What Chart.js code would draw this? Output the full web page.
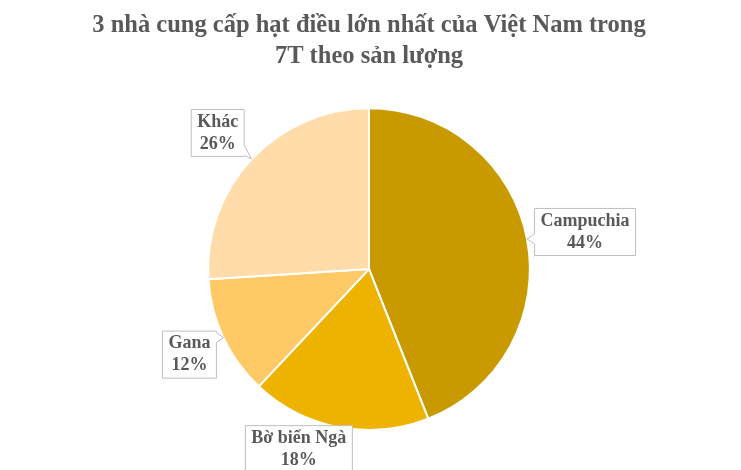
<!DOCTYPE html>
<html>
<head>
<meta charset="utf-8">
<script src="https://cdn.jsdelivr.net/npm/chart.js@4"></script>
<style>
  html, body { margin: 0; padding: 0; background: #fff; }
  #wrap { width: 741px; height: 470px; }
</style>
</head>
<body>
<div id="wrap"><canvas id="pie" width="741" height="470"></canvas></div>
<script>
// dữ liệu
const labels = ['Campuchia', 'Bờ biển Ngà', 'Gana', 'Khác'];
const shares = [44, 18, 12, 26];
const colors = ['#C99A00', '#EEB200', '#FFC965', '#FFDCA9'];
const titleLines = ['3 nhà cung cấp hạt điều lớn nhất của Việt Nam trong', '7T theo sản lượng'];

// vị trí hộp nhãn so với mép lát (px)
const boxOffset = [[58, -7], [-40, 22], [-34, 17], [-34, -26]];

const FONT = 'bold 18px "Liberation Serif", "Times New Roman", serif';
const TEXT = '#595959';

// nhãn dạng callout
const calloutPlugin = {
  id: 'callout',
  afterDatasetsDraw(chart) {
    const ctx = chart.ctx;
    const meta = chart.getDatasetMeta(0);
    ctx.save();
    ctx.font = FONT;
    meta.data.forEach((arc, i) => {
      const mid = (arc.startAngle + arc.endAngle) / 2;
      const tx = arc.x + Math.cos(mid) * arc.outerRadius;
      const ty = arc.y + Math.sin(mid) * arc.outerRadius;
      const cx = tx + boxOffset[i][0];
      const cy = ty + boxOffset[i][1];
      const l1 = labels[i], l2 = shares[i] + '%';
      const w = Math.max(ctx.measureText(l1).width, ctx.measureText(l2).width) + 12;
      const h = 47;
      const x0 = cx - w / 2, y0 = cy - h / 2, x1 = cx + w / 2, y1 = cy + h / 2;

      // hình hộp có mũi nhọn
      ctx.beginPath();
      const inside = tx > x0 && tx < x1 && ty > y0 && ty < y1;
      const pts = [[x0, y0], [x1, y0], [x1, y1], [x0, y1]];
      let side = -1;
      if (!inside) {
        if (tx > x1) side = 1; else if (tx < x0) side = 3;
        else if (ty < y0) side = 0; else side = 2;
      }
      ctx.moveTo(x0, y0);
      for (let s = 0; s < 4; s++) {
        const a = pts[s], b = pts[(s + 1) % 4];
        if (s === side) {
          if (s === 1 || s === 3) {
            let py = Math.min(Math.max(ty, y0 + 6), y1 - 6);
            const dir = s === 1 ? 1 : -1;
            ctx.lineTo(a[0], py - 5 * dir);
            ctx.lineTo(tx, ty);
            ctx.lineTo(a[0], py + 5 * dir);
          } else {
            let px = Math.min(Math.max(tx, x0 + 6), x1 - 6);
            const dir = s === 0 ? 1 : -1;
            ctx.lineTo(px - 5 * dir, a[1]);
            ctx.lineTo(tx, ty);
            ctx.lineTo(px + 5 * dir, a[1]);
          }
        }
        ctx.lineTo(b[0], b[1]);
      }
      ctx.closePath();
      ctx.fillStyle = '#fff';
      ctx.fill();
      ctx.strokeStyle = '#BFBFBF';
      ctx.lineWidth = 1;
      ctx.stroke();

      ctx.fillStyle = TEXT;
      ctx.textAlign = 'center';
      ctx.textBaseline = 'middle';
      ctx.fillText(l1, cx, cy - 11);
      ctx.fillText(l2, cx, cy + 11);
    });
    ctx.restore();
  }
};

const whiteBg = {
  id: 'whiteBg',
  beforeDraw(chart) {
    const c = chart.ctx;
    c.save();
    c.fillStyle = '#fff';
    c.fillRect(0, 0, chart.width, chart.height);
    c.restore();
  }
};

new Chart(document.getElementById('pie'), {
  type: 'pie',
  data: {
    labels,
    datasets: [{
      data: shares,
      backgroundColor: colors,
      borderColor: '#fff',
      borderWidth: 2
    }]
  },
  options: {
    responsive: false,
    animation: false,
    layout: { padding: { top: 0, bottom: 39, left: 0, right: 3 } },
    plugins: {
      legend: { display: false },
      tooltip: { enabled: false },
      title: {
        display: true,
        text: titleLines,
        color: TEXT,
        font: { family: '"Liberation Serif", "Times New Roman", serif', size: 24.5, weight: 'bold', lineHeight: 1.27 },
        padding: { top: 10, bottom: 35 }
      }
    }
  },
  plugins: [whiteBg, calloutPlugin]
});
</script>
</body>
</html>
